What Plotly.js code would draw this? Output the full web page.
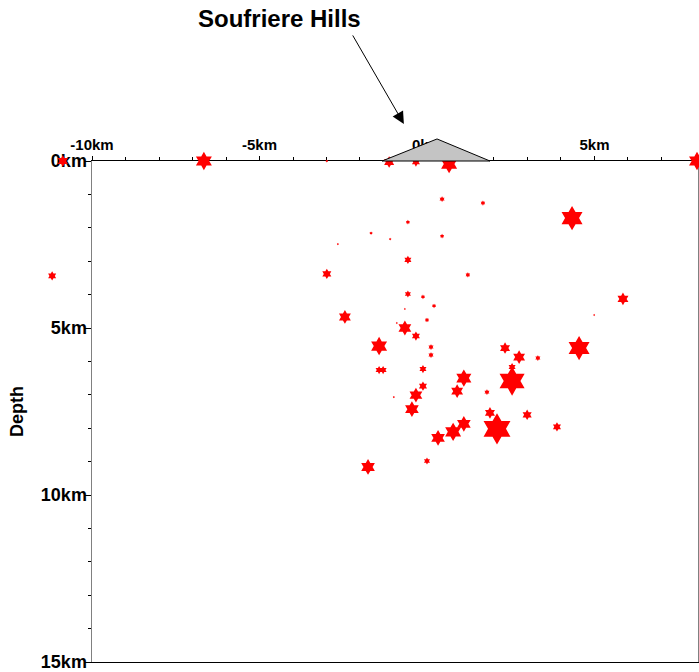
<!DOCTYPE html>
<html>
<head>
<meta charset="utf-8">
<script src="https://cdn.plot.ly/plotly-3.0.1.min.js"></script>
<style>html,body{margin:0;padding:0;background:#fff;}#chart{width:699px;height:672px;}</style>
</head>
<body>
<div id="chart"></div>
<script>
// Earthquake hypocentres: horizontal distance (km), depth (km), relative magnitude
const distKm = [-10.87,-6.66,-2.99,-1.13,-0.33,0.66,8.06,0.45,1.67,4.33,
  -0.57,-1.67,-1.10,0.45,-2.66,-0.57,-2.99,1.22,-11.19,-0.57,
  -0.12,5.85,0.21,-0.66,4.99,-2.45,0.00,-0.90,-0.66,-0.33,
  -1.43,0.12,4.54,2.33,0.12,2.75,3.31,2.54,-1.43,-1.31,
  -0.12,1.10,2.54,-0.12,0.90,1.79,-0.33,-0.99,-0.45,1.88,
  2.99,1.10,3.88,2.09,0.78,0.33,0.00,-1.76];
const depthKm = [0.00,0.00,0.00,0.03,0.03,0.09,0.00,1.14,1.26,1.71,
  1.83,2.16,2.34,2.25,2.49,2.96,3.38,3.41,3.44,3.98,
  4.07,4.13,4.34,4.43,4.61,4.67,4.76,4.85,5.00,5.24,
  5.54,5.57,5.60,5.60,5.81,5.87,5.90,6.17,6.26,6.26,
  6.23,6.50,6.59,6.74,6.89,6.92,7.01,7.07,7.43,7.54,
  7.60,7.87,7.96,8.02,8.11,8.29,8.98,9.16];
const magnitude = [1.1,1.75,0.27,1.1,0.88,1.75,1.75,0.55,0.49,2.3,
  0.44,0.33,0.27,0.44,0.22,0.77,0.99,0.49,0.88,0.66,
  0.44,1.2,0.44,0.22,0.22,1.3,0.44,0.22,1.4,0.88,
  1.75,0.55,2.3,1.1,0.55,1.3,0.55,0.77,0.77,0.77,
  0.77,1.65,2.75,0.88,1.3,0.55,1.4,0.22,1.5,1.1,
  1.0,1.5,0.88,2.95,1.75,1.5,0.66,1.5];

// Volcano outline (km) and axis ticks
const volcanoX = [-1.34, 0.30, 1.88];
const volcanoElev = [0.0, 0.66, 0.0];
const xTickVals = [-10, -5, 0, 5];
const xTickText = ['-10km', '-5km', '0km', '5km'];
const yTickVals = [0, 5, 10, 15];
const yTickText = ['0km', '5km', '10km', '15km'];
const volcanoName = 'Soufriere Hills';

const xRange = [-10, 8.09];
const yRange = [15, 0];
const d0 = 92 / 698;
const x2Range = [xRange[0] - d0 / (1 - d0) * (xRange[1] - xRange[0]), xRange[1]];
const toPaperX = v => (v - x2Range[0]) / (x2Range[1] - x2Range[0]);
const toPaperY = d => (yRange[0] - d) / (yRange[0] - yRange[1]);

const volcanoPath = volcanoX.map((x, i) =>
  (i === 0 ? 'M' : 'L') + toPaperX(x).toFixed(5) + ',' + toPaperY(-volcanoElev[i]).toFixed(5)
).join(' ') + ' Z';

const fontFam = 'Liberation Sans, Arial, sans-serif';

// placeholder trace so the framed x/y subplot (with its axes) exists
const frameTrace = {
  type: 'scatter', mode: 'markers', x: [null], y: [null], xaxis: 'x', yaxis: 'y',
  hoverinfo: 'skip', showlegend: false
};

const quakeTrace = {
  type: 'scatter', mode: 'markers',
  x: distKm, y: depthKm, xaxis: 'x2', yaxis: 'y',
  marker: {symbol: 'hexagram', color: '#ff0000', opacity: 1,
           size: magnitude.map(m => m * 8), line: {width: 0}},
  cliponaxis: false, hoverinfo: 'skip', showlegend: false
};

const layout = {
  width: 699, height: 672,
  margin: {l: 0, r: 1, t: 161, b: 10},
  paper_bgcolor: '#fff', plot_bgcolor: 'rgba(0,0,0,0)',
  showlegend: false,
  xaxis: {
    domain: [d0, 1], anchor: 'y',
    side: 'top', range: xRange, showgrid: false, zeroline: false,
    showline: true, linecolor: '#000', linewidth: 1, mirror: true,
    ticks: 'outside', ticklen: 4, tickcolor: '#000', tickwidth: 1,
    tickvals: xTickVals, ticktext: xTickText,
    tickfont: {family: fontFam, size: 15, color: '#000', weight: 'bold'},
    minor: {dtick: 1, ticks: 'outside', ticklen: 3, tickcolor: '#000', showgrid: false},
    fixedrange: true
  },
  xaxis2: {
    domain: [0, 1], anchor: 'free', position: 0, range: x2Range, visible: false,
    showgrid: false, zeroline: false, fixedrange: true
  },
  yaxis: {
    anchor: 'x', domain: [0, 1],
    range: yRange, showgrid: false, zeroline: false,
    showline: true, linecolor: '#808080', linewidth: 1.5, mirror: true,
    ticks: 'outside', ticklen: 6, tickcolor: '#000', tickwidth: 1,
    ticklabelstandoff: -6, ticklabeloverflow: 'allow',
    tickvals: yTickVals, ticktext: yTickText,
    tickfont: {family: fontFam, size: 18, color: '#000', weight: 'bold'},
    minor: {dtick: 1, ticks: 'outside', ticklen: 3, tickcolor: '#000', showgrid: false},
    title: {text: 'Depth', font: {family: fontFam, size: 18, color: '#000', weight: 'bold'}, standoff: 12},
    fixedrange: true
  },
  shapes: [{
    type: 'path', xref: 'paper', yref: 'paper', path: volcanoPath,
    fillcolor: '#c4c4c4', line: {color: '#000', width: 1}, layer: 'above'
  }],
  annotations: [
    {xref: 'paper', yref: 'paper', x: toPaperX(-4.39), y: toPaperY(-4.28),
     text: volcanoName, showarrow: false, xanchor: 'center', yanchor: 'middle',
     font: {family: fontFam, size: 24, color: '#000', weight: 'bold'}},
    {xref: 'paper', yref: 'paper', x: toPaperX(-0.69), y: toPaperY(-1.11), text: '',
     showarrow: true, ax: -52, ay: -90, arrowhead: 2, arrowsize: 2.4, arrowwidth: 1,
     arrowcolor: '#000', standoff: 0}
  ]
};

Plotly.newPlot('chart', [frameTrace, quakeTrace], layout, {staticPlot: true, displayModeBar: false});
</script>
</body>
</html>
